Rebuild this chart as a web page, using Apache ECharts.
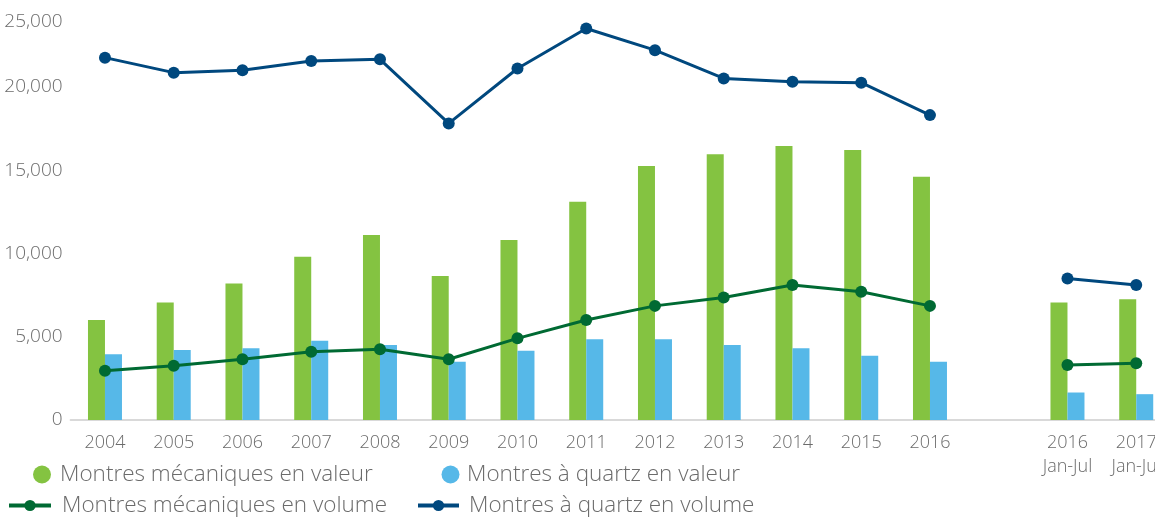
<!DOCTYPE html>
<html>
    <head>
        <meta charset=utf-8>
    </head>
    <body style="margin:0">
        <div id="chart" style="width:1155px;height:517px"></div>
        <script src="https://cdn.jsdelivr.net/npm/echarts@6/dist/echarts.min.js"></script>
        <script type="text/javascript">

            var myChart = echarts.init(document.querySelector('#chart'));

            // categories: an empty slot separates the full years from the Jan-Jul pair
            let categories = ['2004','2005','2006','2007','2008','2009','2010','2011','2012','2013','2014','2015','2016','','2016\nJan-Jul','2017\nJan-Jul']
            let mecaValeur = [6000,7050,8200,9800,11100,8650,10800,13100,15250,15950,16450,16200,14600,null,7050,7250]
            let quartzValeur = [3950,4200,4300,4750,4500,3500,4150,4850,4850,4500,4300,3850,3500,null,1650,1550]
            let mecaVolume = [2950,3250,3650,4100,4250,3650,4900,6000,6850,7350,8100,7700,6850,null,3300,3400]
            let quartzVolume = [21750,20850,21000,21550,21650,17800,21100,23500,22200,20500,20300,20250,18300,null,8500,8100]
            let yTicks = [0,5000,10000,15000,20000,25000]

            let names = ['Montres mécaniques en valeur','Montres à quartz en valeur','Montres mécaniques en volume','Montres à quartz en volume']
            let colors = ['#84C341','#56B8E8','#006A33','#00487E']

            function legendText(padLeft) {
                return {color: '#6b6b6b', fontSize: 22.5, fontFamily: 'Open Sans', fontWeight: 300, padding: [0,0,0,padLeft]}
            }

            let option = {
            animation: false,
            textStyle: {fontFamily: 'Open Sans'},
            legend: [
                {data: [names[0]], left: 33, top: 463, padding: 0, icon: 'circle', itemWidth: 18, itemHeight: 18, textStyle: legendText(4), selectedMode: false},
                {data: [names[1]], left: 441.5, top: 463, padding: 0, icon: 'circle', itemWidth: 18, itemHeight: 18, textStyle: legendText(2.5), selectedMode: false},
                {data: [names[2]], left: 7, top: 494, padding: 0, itemWidth: 42, itemHeight: 14, lineStyle: {width: 4}, textStyle: legendText(6), selectedMode: false},
                {data: [names[3]], left: 416, top: 494, padding: 0, itemWidth: 41, itemHeight: 14, lineStyle: {width: 4}, textStyle: legendText(5), selectedMode: false}
            ],
            grid: {
                left: 70.6,
                top: 3.5,
                width: 1100,
                height: 416.5,
                containLabel: false,
                outerBoundsMode: 'none',
            },
            xAxis: {
                type: 'category',
                data: categories,
                axisLine: {lineStyle: {color: '#d9d9d9', width: 2}},
                axisTick: {show: false},
                axisLabel: {
                    interval: 0,
                    color: '#6b6b6b',
                    fontSize: 18,
                    fontWeight: 300,
                    lineHeight: 24,
                    margin: 11,
                },
            },
            yAxis: {
                type: 'value',
                min: yTicks[0],
                max: yTicks[yTicks.length - 1],
                interval: 5000,
                splitLine: {show: false},
                axisLine: {show: false},
                axisTick: {show: false},
                axisLabel: {
                    color: '#6b6b6b',
                    fontSize: 19,
                    fontWeight: 300,
                    margin: 8,
                    lineHeight: 36,
                    verticalAlignMaxLabel: 'top',
                    formatter: function(v) {
                        return v.toLocaleString('en-US')
                    }
                },
            },
            series: [
                {name: names[0], type: 'bar', data: mecaValeur, barWidth: 17, barGap: '0%', itemStyle: {color: colors[0]}},
                {name: names[1], type: 'bar', data: quartzValeur, barWidth: 17, barGap: '0%', itemStyle: {color: colors[1]}},
                {name: names[2], type: 'line', data: mecaVolume, symbol: 'circle', symbolSize: 12, connectNulls: false,
                    lineStyle: {width: 3, color: colors[2]}, itemStyle: {color: colors[2]}},
                {name: names[3], type: 'line', data: quartzVolume, symbol: 'circle', symbolSize: 12, connectNulls: false,
                    lineStyle: {width: 3, color: colors[3]}, itemStyle: {color: colors[3]}},
            ],
            }
            myChart.setOption(option);
        </script>
    </body>
</html>
